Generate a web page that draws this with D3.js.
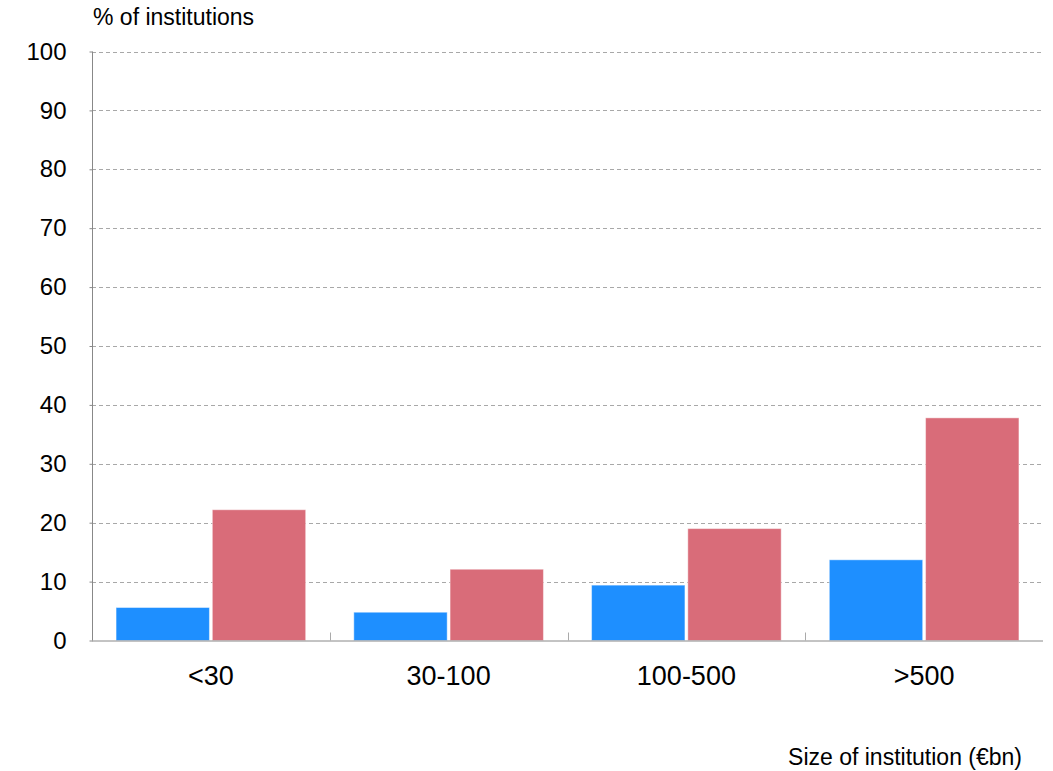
<!DOCTYPE html>
<html>
<head>
<meta charset="utf-8">
<script src="https://cdn.jsdelivr.net/npm/d3@7"></script>
<style>
  html, body { margin: 0; padding: 0; background: #fff; }
  svg { display: block; font-family: "Liberation Sans", Arial, Helvetica, sans-serif; }
</style>
</head>
<body>
<svg id="chart" width="1053" height="771"></svg>
<script>
// Institution size buckets (€bn) and the share of institutions in each
const categories = ["<30", "30-100", "100-500", ">500"];
const seriesA = [5.6, 4.8, 9.4, 13.7];
const seriesB = [22.2, 12.1, 19.0, 37.8];
const yTicks = [0, 10, 20, 30, 40, 50, 60, 70, 80, 90, 100];
const yTitle = "% of institutions";
const xTitle = "Size of institution (€bn)";

const colors = ["#1e8fff", "#d96c79"];

const svg = d3.select("#chart");
const left = 92, plotRight = 1043, plotTop = 51.5, plotBottom = 640.5;

const x = d3.scaleBand().domain(categories).range([left, plotRight]).paddingInner(0).paddingOuter(0);
const inner = d3.scaleBand().domain([0, 1]).range([0, x.bandwidth()]).paddingOuter(0.25).paddingInner(0.03);
const y = d3.scaleLinear().domain([0, 100]).range([plotBottom, plotTop]);

// dashed gridlines
svg.append("g")
  .selectAll("line")
  .data(yTicks.filter(d => d > 0))
  .join("line")
  .attr("x1", left).attr("x2", plotRight)
  .attr("y1", d => Math.round(y(d)) + 0.5).attr("y2", d => Math.round(y(d)) + 0.5)
  .attr("stroke", "#a8a8a8")
  .attr("stroke-width", 1)
  .attr("stroke-dasharray", "4,3");

// bars
const series = [seriesA, seriesB];
const groups = svg.append("g")
  .selectAll("g")
  .data(categories)
  .join("g")
  .attr("transform", d => `translate(${x(d)},0)`);

groups.selectAll("rect")
  .data((d, i) => series.map((s, k) => ({ k, v: s[i] })))
  .join("rect")
  .attr("x", d => inner(d.k))
  .attr("width", inner.bandwidth())
  .attr("y", d => y(d.v))
  .attr("height", d => plotBottom - y(d.v))
  .attr("fill", d => colors[d.k])
  .attr("stroke", "rgba(255,255,255,0.45)")
  .attr("stroke-width", 1);

// y axis
const yAxis = d3.axisLeft(y).tickValues(yTicks).tickSize(3).tickPadding(23).tickFormat(d3.format("d"));
const gy = svg.append("g")
  .attr("transform", `translate(${left + 0.5},0)`)
  .call(yAxis);
gy.select(".domain").attr("stroke", "#888").attr("d", `M0,${plotTop}V${plotBottom}`);
gy.selectAll(".tick line").attr("stroke", "#888");
gy.selectAll(".tick text")
  .attr("font-size", 24)
  .attr("fill", "#000")
  .attr("font-family", "Liberation Sans, Arial, sans-serif");

// x axis: baseline with short inner ticks at the category boundaries
const gx = svg.append("g");
gx.append("line")
  .attr("x1", left).attr("x2", plotRight)
  .attr("y1", plotBottom + 0.5).attr("y2", plotBottom + 0.5)
  .attr("stroke", "#888");
gx.selectAll("line.boundary")
  .data(categories.slice(1))
  .join("line")
  .attr("class", "boundary")
  .attr("x1", d => Math.round(x(d)) + 0.5).attr("x2", d => Math.round(x(d)) + 0.5)
  .attr("y1", plotBottom).attr("y2", plotBottom - 8)
  .attr("stroke", "#aaa");
gx.selectAll("text")
  .data(categories)
  .join("text")
  .attr("x", d => x(d) + x.bandwidth() / 2)
  .attr("y", 685)
  .attr("text-anchor", "middle")
  .attr("font-size", 27)
  .attr("fill", "#000")
  .text(d => d);

// titles
svg.append("text")
  .attr("x", 93).attr("y", 25)
  .attr("font-size", 23)
  .attr("fill", "#000")
  .text(yTitle);

svg.append("text")
  .attr("x", 1022).attr("y", 765)
  .attr("text-anchor", "end")
  .attr("font-size", 23)
  .attr("fill", "#000")
  .text(xTitle);
</script>
</body>
</html>
